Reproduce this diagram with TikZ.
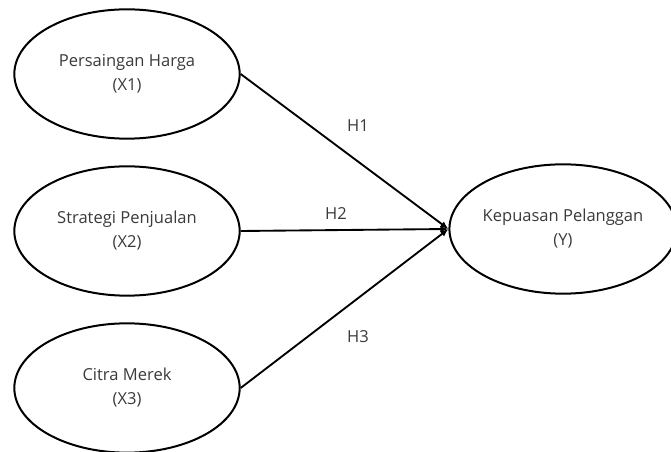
\documentclass[tikz,border=0pt]{standalone}
\usepackage{fontspec}
\setmainfont{Open Sans}
\usetikzlibrary{arrows.meta,shapes.geometric}
\definecolor{tinta}{HTML}{3A3A3A}

\begin{document}
\begin{tikzpicture}[x=0.75pt,y=-0.75pt]
  \tikzset{
    var/.style={ellipse,draw=black,line width=1.5pt,minimum width=169pt,minimum height=97pt,inner sep=0pt,align=center,text=tinta,font=\fontsize{12.4}{18}\selectfont},
    jalur/.style={draw=black,line width=1.4pt,-{Latex[length=6pt,width=5pt]}},
    lbl/.style={text=tinta,font=\fontsize{12.4}{14}\selectfont}
  }
  \useasboundingbox (0,0) rectangle (671,452);
  \node[var] (x1) at (127,74) {Persaingan Harga\\(X1)};
  \node[var] (x2) at (127,231) {Strategi Penjualan\\(X2)};
  \node[var] (x3) at (127,388) {Citra Merek\\(X3)};
  \node[var,minimum width=162pt] (y) at (563,229) {Kepuasan Pelanggan\\(Y)};
  \draw[jalur] (x1.east) -- (y.west);
  \draw[jalur] (x2.east) -- (y.west);
  \draw[jalur] (x3.east) -- (y.west);
  \node[lbl] (h1) at (358,126) {H1};
  \node[lbl] (h2) at (336,214) {H2};
  \node[lbl] (h3) at (358,337) {H3};
\end{tikzpicture}
\end{document}
